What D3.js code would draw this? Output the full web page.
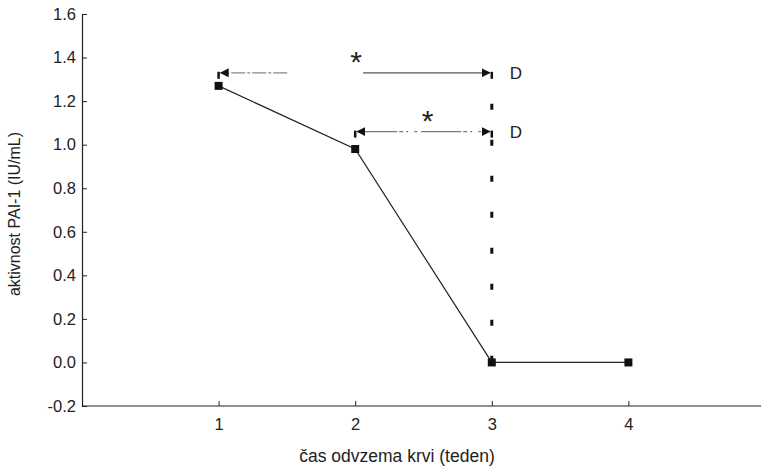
<!DOCTYPE html>
<html>
<head>
<meta charset="utf-8">
<script src="https://cdn.jsdelivr.net/npm/d3@7"></script>
<style>
  body { margin: 0; background: #fff; }
  text { font-family: "Liberation Sans", Arial, sans-serif; fill: #222; }
</style>
</head>
<body>
<div id="vis-container"></div>
<script>
// data
var weeks = [1, 2, 3, 4];
var pai = [1.27, 0.98, 0.0, 0.0];
var yTicks = [-0.2, 0.0, 0.2, 0.4, 0.6, 0.8, 1.0, 1.2, 1.4, 1.6];
var xTicks = [1, 2, 3, 4];
// significance brackets: from week, to week, level, label
var compFrom = [1, 2];
var compTo = [3, 3];
var compLevel = [1.33, 1.06];
var compLabel = ["D", "D"];

var width = 761, height = 470;
var margins = { top: 14, right: 0, bottom: 64, left: 82 };

var svg = d3.select("#vis-container").append("svg")
    .attr("width", width).attr("height", height);

var xScale = d3.scaleLinear().domain([0, 5]).range([margins.left, margins.left + 5 * 136.6]);
var yScale = d3.scaleLinear().domain([-0.2, 1.6]).range([height - margins.bottom, margins.top]);

// plain hyphen for the minus sign, like the original
var fmt = d3.formatLocale({ decimal: ".", thousands: ",", grouping: [3], currency: ["", ""], minus: "-" }).format(".1f");

// axes
var xAxis = svg.append("g")
    .attr("transform", "translate(0," + yScale(-0.2) + ")")
    .call(d3.axisBottom(xScale).tickValues(xTicks).tickSize(-5).tickPadding(12).tickFormat(d3.format("d")));
var yAxis = svg.append("g")
    .attr("transform", "translate(" + margins.left + ",0)")
    .call(d3.axisLeft(yScale).tickValues(yTicks).tickSize(-5).tickPadding(6).tickFormat(fmt));

[xAxis, yAxis].forEach(function (a) {
    a.select(".domain").attr("stroke", "#222").attr("stroke-width", 1.2);
    a.selectAll(".tick line").attr("stroke", "#222");
    a.selectAll(".tick text").style("font-size", "16.5px").attr("fill", "#222");
});
xAxis.select(".domain").attr("d", "M" + margins.left + ",0H" + width);

// axis labels
svg.append("text")
    .attr("x", 397).attr("y", 462)
    .attr("text-anchor", "middle").style("font-size", "17.5px")
    .text("čas odvzema krvi (teden)");
svg.append("text")
    .attr("transform", "translate(20,214) rotate(-90)")
    .attr("text-anchor", "middle").style("font-size", "16px")
    .text("aktivnost PAI-1 (IU/mL)");

// arrowhead marker
var defs = svg.append("defs");
defs.append("marker").attr("id", "arr")
    .attr("viewBox", "0 0 10 10").attr("refX", 9).attr("refY", 5)
    .attr("markerWidth", 9).attr("markerHeight", 9).attr("orient", "auto-start-reverse")
    .attr("markerUnits", "userSpaceOnUse")
    .append("path").attr("d", "M0,0L10,5L0,10z").attr("fill", "#111");

// vertical dotted line at week 3
svg.append("line")
    .attr("x1", xScale(3)).attr("x2", xScale(3))
    .attr("y1", yScale(compLevel[0]) + 1).attr("y2", yScale(0))
    .attr("stroke", "#111").attr("stroke-width", 3)
    .attr("stroke-dasharray", "6,30").attr("stroke-dashoffset", -30);

// brackets
compFrom.forEach(function (f, i) {
    var x1 = xScale(f), x2 = xScale(compTo[i]), y = yScale(compLevel[i]);
    // end ticks
    [x1, x2].forEach(function (x) {
        svg.append("line").attr("x1", x).attr("x2", x).attr("y1", y - 1).attr("y2", y + 6)
            .attr("stroke", "#111").attr("stroke-width", 2.5);
    });
    var mid = (x1 + x2) / 2;
    if (i === 0) {
        svg.append("line").attr("x1", mid - 68).attr("x2", x1 + 2).attr("y1", y).attr("y2", y)
            .attr("stroke", "#888").attr("stroke-width", 1.2).attr("stroke-dasharray", "14,2,3,2")
            .attr("marker-end", "url(#arr)");
        svg.append("line").attr("x1", mid + 8).attr("x2", x2 - 2).attr("y1", y).attr("y2", y)
            .attr("stroke", "#555").attr("stroke-width", 1.2)
            .attr("marker-end", "url(#arr)");
        svg.append("text").attr("x", mid + 1).attr("y", y - 1)
            .attr("text-anchor", "middle").style("font-size", "30px").text("*");
    } else {
        svg.append("line").attr("x1", x1 + 2).attr("x2", x2 - 2).attr("y1", y).attr("y2", y)
            .attr("stroke", "#777").attr("stroke-width", 1.2).attr("stroke-dasharray", "40,2,4,3,2,6,3,4")
            .attr("marker-start", "url(#arr)").attr("marker-end", "url(#arr)");
        svg.append("text").attr("x", mid + 4).attr("y", y - 1)
            .attr("text-anchor", "middle").style("font-size", "30px").text("*");
    }
    svg.append("text").attr("x", x2 + 18).attr("y", y + 6)
        .style("font-size", "17px").text(compLabel[i]);
});

// data line
var pts = weeks.map(function (w, i) { return [w, pai[i]]; });
svg.append("path")
    .attr("d", d3.line().x(d => xScale(d[0])).y(d => yScale(d[1]))(pts))
    .attr("fill", "none").attr("stroke", "#222").attr("stroke-width", 1.2);
svg.selectAll("rect.pt").data(pts).enter().append("rect")
    .attr("class", "pt")
    .attr("x", d => xScale(d[0]) - 4).attr("y", d => yScale(d[1]) - 4)
    .attr("width", 8).attr("height", 8).attr("fill", "#111");
</script>
</body>
</html>
